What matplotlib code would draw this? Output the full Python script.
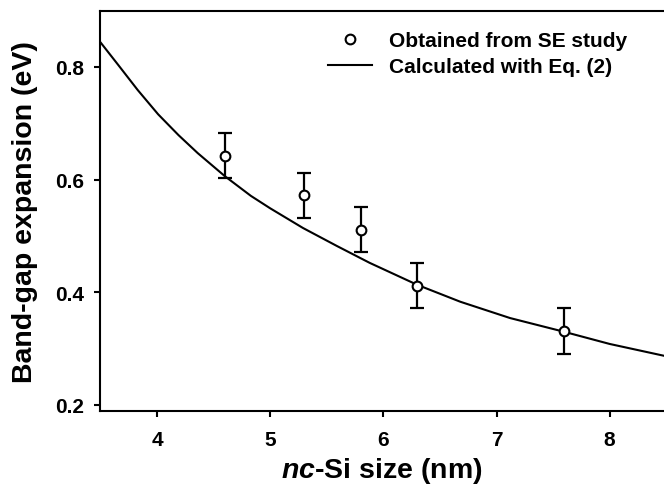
import matplotlib
matplotlib.use("Agg")
import matplotlib.pyplot as plt
from matplotlib.lines import Line2D

plt.rcParams['font.family'] = ['Liberation Sans', 'DejaVu Sans']
plt.rcParams['mathtext.fontset'] = 'custom'
plt.rcParams['mathtext.it'] = 'Liberation Sans:italic:bold'
plt.rcParams['mathtext.rm'] = 'Liberation Sans:bold'

# measured points (SE study)
size_nm = [4.6, 5.3, 5.8, 6.3, 7.6]
bandgap_ev = [0.642, 0.572, 0.511, 0.411, 0.331]
err_ev = [0.04, 0.04, 0.04, 0.04, 0.04]

# calculated curve
curve_size = [3.50, 3.66, 3.83, 4.01, 4.19, 4.36, 4.60, 4.83, 5.00, 5.29,
              5.59, 5.88, 6.30, 6.68, 7.12, 7.59, 8.00, 8.48]
curve_ev = [0.844, 0.803, 0.759, 0.716, 0.679, 0.647, 0.606, 0.571, 0.549, 0.514,
            0.482, 0.452, 0.413, 0.383, 0.354, 0.330, 0.308, 0.287]

xticks = [4, 5, 6, 7, 8]
yticks = [0.2, 0.4, 0.6, 0.8]

fig = plt.figure(figsize=(6.64, 4.89), dpi=100)
ax = fig.add_axes([100.4/664, 1 - 412/489, 1 - 100.4/664, (412 - 11.7)/489])

ax.plot(curve_size, curve_ev, color='black', lw=1.5, zorder=2,
        solid_joinstyle='round')
ax.errorbar(size_nm, bandgap_ev, yerr=err_ev, fmt='none', ecolor='black',
            elinewidth=1.6, capsize=4.7, capthick=1.6, zorder=3)
ax.plot(size_nm, bandgap_ev, 'o', ms=7, mfc='white', mec='black', mew=1.5,
        ls='none', zorder=4)

ax.set_xlim(3.5, 8.48)
ax.set_ylim(0.1889, 0.9)
ax.set_xticks(xticks)
ax.set_yticks(yticks)
ax.set_xticklabels([str(t) for t in xticks])
ax.set_yticklabels([f"{t:.1f}" for t in yticks])

for s in ['left', 'bottom', 'top']:
    ax.spines[s].set_linewidth(1.5)
ax.spines['right'].set_visible(False)

ax.tick_params(axis='both', direction='out', length=4, width=1.5, labelsize=15)
ax.tick_params(axis='y', pad=8)
ax.tick_params(axis='x', pad=10)
for lab in ax.get_xticklabels() + ax.get_yticklabels():
    lab.set_fontweight('bold')

ax.set_ylabel('Band-gap expansion (eV)', fontsize=20.5, fontweight='bold')
ax.set_xlabel(r'$nc$-Si size (nm)', fontsize=20.5, fontweight='bold')
ax.yaxis.set_label_coords(-0.11, 0.5)

handles = [
    Line2D([], [], marker='o', ls='none', ms=7, mfc='white', mec='black', mew=1.5),
    Line2D([], [], color='black', lw=1.5),
]
labels = ['Obtained from SE study', 'Calculated with Eq. (2)']
leg = ax.legend(handles, labels, loc='upper left', frameon=False,
                bbox_to_anchor=(328/664, 1 - 32/489), bbox_transform=fig.transFigure,
                borderaxespad=0, borderpad=0, handlelength=2.1, handletextpad=0.85,
                labelspacing=0.35, prop={'size': 15, 'weight': 'bold'})

fig.savefig('out.png', dpi=100)
